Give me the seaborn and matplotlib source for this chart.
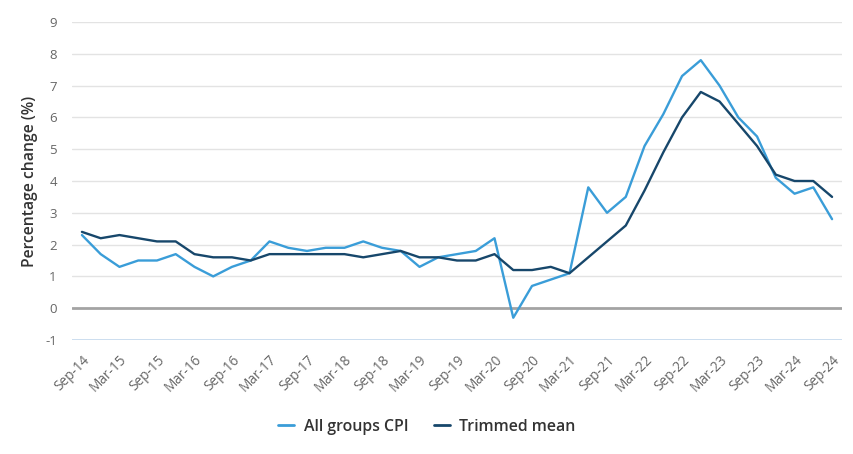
import matplotlib
matplotlib.use("Agg")
import matplotlib.pyplot as plt
import seaborn as sns
import pandas as pd
import numpy as np
from matplotlib.lines import Line2D

quarters = ["Sep-14", "Dec-14", "Mar-15", "Jun-15", "Sep-15", "Dec-15", "Mar-16", "Jun-16",
            "Sep-16", "Dec-16", "Mar-17", "Jun-17", "Sep-17", "Dec-17", "Mar-18", "Jun-18",
            "Sep-18", "Dec-18", "Mar-19", "Jun-19", "Sep-19", "Dec-19", "Mar-20", "Jun-20",
            "Sep-20", "Dec-20", "Mar-21", "Jun-21", "Sep-21", "Dec-21", "Mar-22", "Jun-22",
            "Sep-22", "Dec-22", "Mar-23", "Jun-23", "Sep-23", "Dec-23", "Mar-24", "Jun-24",
            "Sep-24"]
all_groups_cpi = [2.3, 1.7, 1.3, 1.5, 1.5, 1.7, 1.3, 1.0, 1.3, 1.5, 2.1, 1.9, 1.8, 1.9, 1.9, 2.1,
                  1.9, 1.8, 1.3, 1.6, 1.7, 1.8, 2.2, -0.3, 0.7, 0.9, 1.1, 3.8, 3.0, 3.5, 5.1, 6.1,
                  7.3, 7.8, 7.0, 6.0, 5.4, 4.1, 3.6, 3.8, 2.8]
trimmed_mean = [2.4, 2.2, 2.3, 2.2, 2.1, 2.1, 1.7, 1.6, 1.6, 1.5, 1.7, 1.7, 1.7, 1.7, 1.7, 1.6,
                1.7, 1.8, 1.6, 1.6, 1.5, 1.5, 1.7, 1.2, 1.2, 1.3, 1.1, 1.6, 2.1, 2.6, 3.7, 4.9,
                6.0, 6.8, 6.5, 5.8, 5.1, 4.2, 4.0, 4.0, 3.5]
series_names = ["All groups CPI", "Trimmed mean"]
colors = ["#3a9dd8", "#17476b"]
y_ticks = list(range(-1, 10))

sns.set_theme(style="white")
plt.rcParams['font.family'] = ['Open Sans', 'DejaVu Sans']

idx = np.arange(len(quarters))
df = pd.DataFrame({
    "q": np.concatenate([idx, idx]),
    "value": all_groups_cpi + trimmed_mean,
    "series": [series_names[0]] * len(quarters) + [series_names[1]] * len(quarters),
})

fig = plt.figure(figsize=(8.54, 4.54), dpi=100)
ax = fig.add_axes([72 / 854, 114 / 454, 770 / 854, 318 / 454])

for y in y_ticks:
    if y == 0:
        ax.axhline(y, color="#a3a3a3", lw=2.0, zorder=1)
    elif y == -1:
        ax.axhline(y, color="#c3d8ec", lw=1.2, zorder=1)
    else:
        ax.axhline(y, color="#e3e3e3", lw=1.0, zorder=1)

sns.lineplot(data=df, x="q", y="value", hue="series", palette=colors, hue_order=series_names,
             linewidth=1.7, ax=ax, legend=False, zorder=3)

ax.set_xlim(-0.53, len(quarters) - 1 + 0.53)
ax.set_ylim(-1, 9)
ax.set_yticks(y_ticks)
ax.set_yticklabels([str(v) for v in y_ticks], fontsize=9.5, color="#666666")
ax.set_xticks(idx[::2])
ax.set_xticklabels(quarters[::2], rotation=45, ha="right", rotation_mode="anchor",
                   fontsize=9.8, color="#666666")
ax.tick_params(axis="y", length=0, pad=11)
ax.tick_params(axis="x", length=0, pad=9)
for s in ax.spines.values():
    s.set_visible(False)
ax.set_xlabel("")
ax.set_ylabel("Percentage change (%)", fontsize=11.3, color="#333333", fontweight="semibold",
              labelpad=5)

handles = [Line2D([0], [0], color=c, lw=2) for c in colors]
fig.legend(handles, series_names, loc="center", bbox_to_anchor=(0.5, 27 / 454), ncol=2,
           frameon=False, handlelength=1.0, handletextpad=0.6, columnspacing=1.6,
           prop={"size": 11.4, "weight": "semibold"}, labelcolor="#333333")

fig.savefig("out.png", dpi=100)
